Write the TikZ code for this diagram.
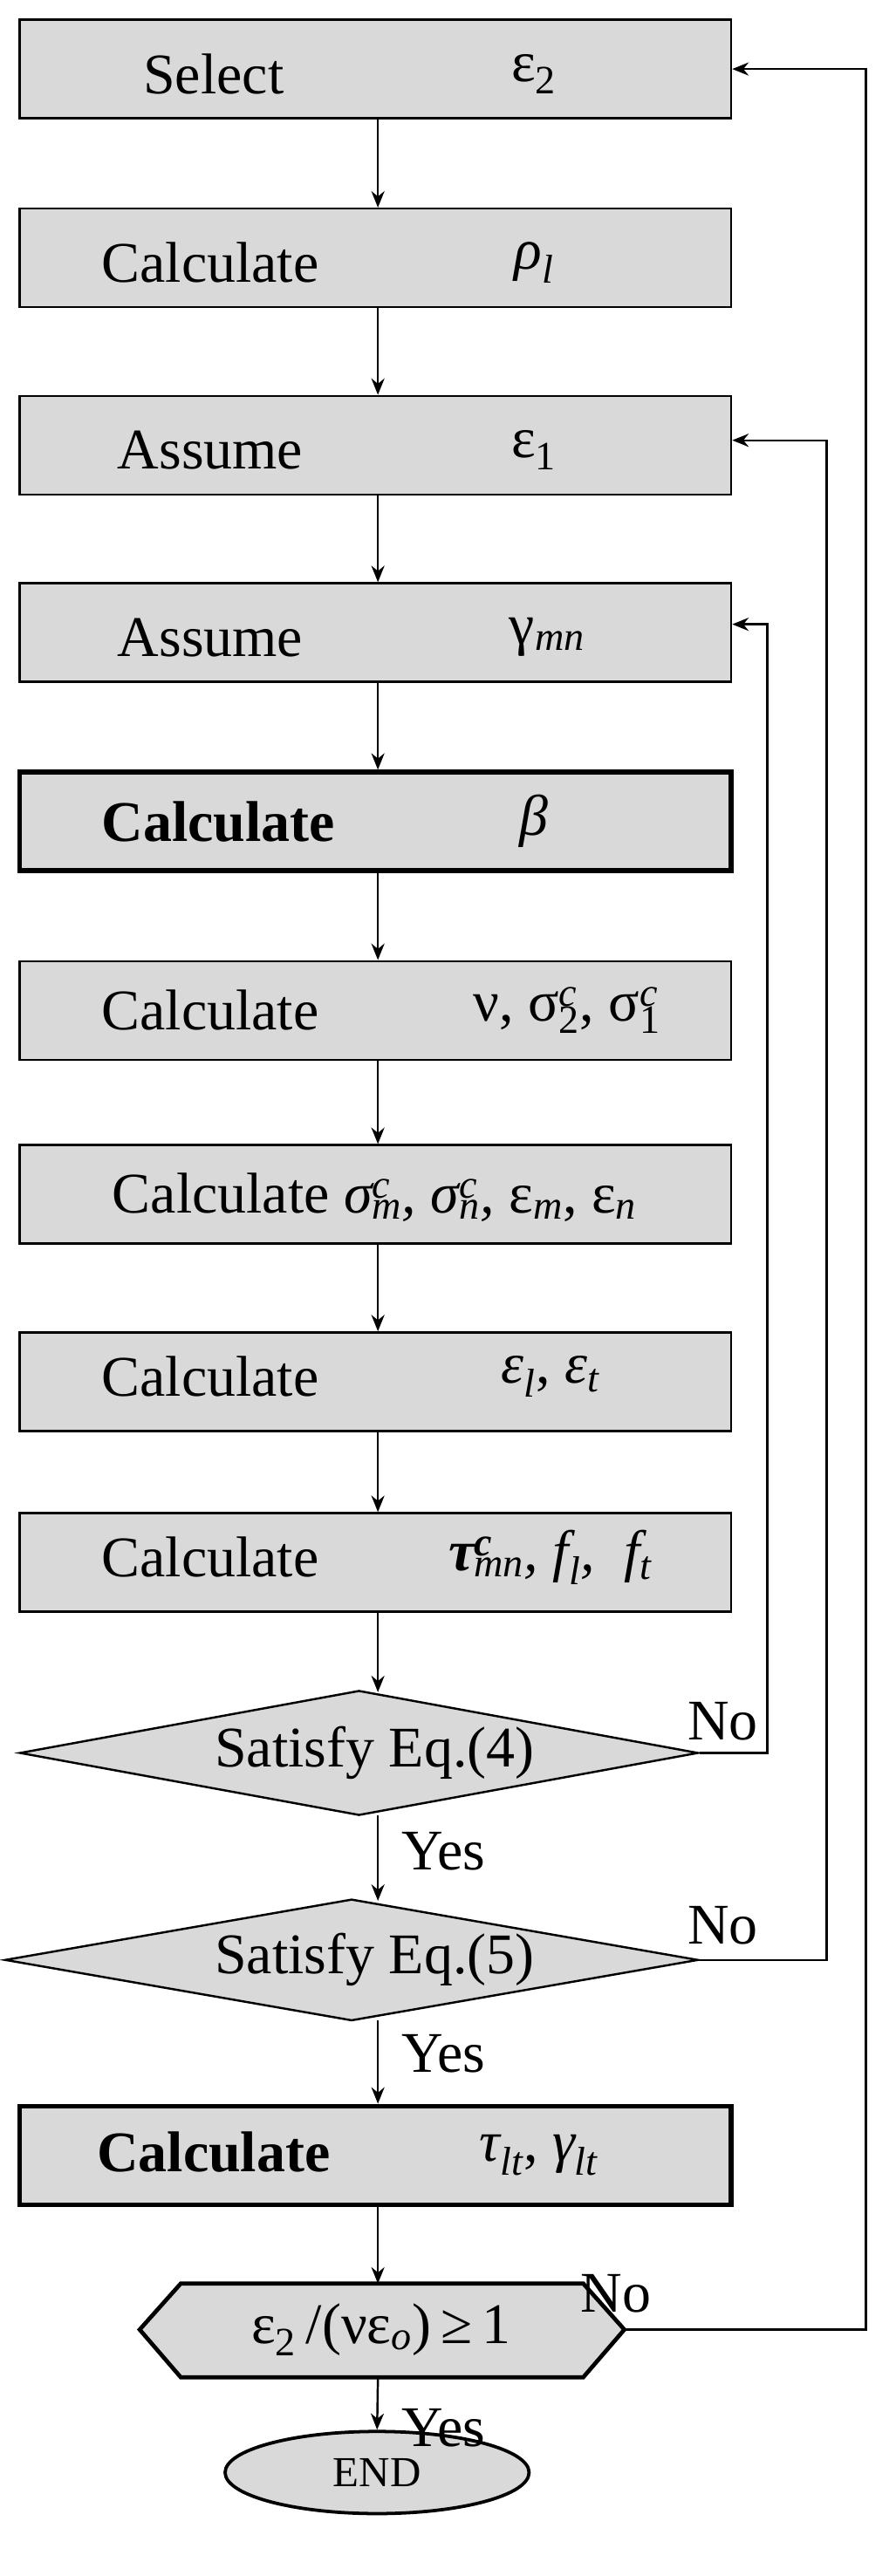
\documentclass[tikz,border=0pt]{standalone}
\usepackage{fontspec}
\setmainfont{Liberation Serif}
\usetikzlibrary{shapes.geometric,arrows.meta}
\newcommand{\supsb}[2]{\makebox[0pt][l]{\textsuperscript{\itshape #1}}\textsubscript{#2}}
\newcommand{\sbi}[1]{\textsubscript{\itshape #1}}
\definecolor{boxgray}{gray}{0.85}
\begin{document}
\begin{tikzpicture}[x=1pt,y=-1pt,
  bx/.style={draw,fill=boxgray,line width=1.3pt,minimum width=433pt,minimum height=60pt,inner sep=0pt},
  tbx/.style={bx,line width=3pt},
  arr/.style={-{Stealth[length=10pt,width=8pt]},line width=1.3pt},
  every node/.style={font=\fontsize{35}{40}\selectfont}]
\useasboundingbox (0,0) rectangle (545,1568);
\node[bx] (b1) at (228.5,42) {};
\node at (130,45) {Select}; \node at (325,45) {ε\textsubscript{2}};
\node[bx] (b2) at (228.5,157) {};
\node at (128,160) {Calculate}; \node at (325,160) {\itshape ρ\sbi{l}};
\node[bx] (b3) at (228.5,271) {};
\node at (128,274) {Assume}; \node at (325,274) {ε\textsubscript{1}};
\node[bx] (b4) at (228.5,385) {};
\node at (128,388) {Assume}; \node at (333,388) {γ\sbi{mn}};
\node[tbx] (b5) at (228.5,500) {};
\node at (133,500) {\bfseries Calculate}; \node at (325,500) {\itshape β};
\node[bx] (b6) at (228.5,615) {};
\node at (128,615) {Calculate}; \node at (345,615) {ν, σ\supsb{c}{2}, σ\supsb{c}{1}};
\node[bx] (b7) at (228.5,727) {};
\node at (228,729) {Calculate \itshape σ\supsb{c}{m}, σ\supsb{c}{n}, \upshape ε\sbi{m}, ε\sbi{n}};
\node[bx] (b8) at (228.5,841) {};
\node at (128,838) {Calculate}; \node at (335,838) {\itshape ε\sbi{l}\upshape, \itshape ε\sbi{t}};
\node[bx] (b9) at (228.5,951) {};
\node at (128,948) {Calculate}; \node at (335,948) {\itshape\bfseries τ\supsb{c}{\mdseries mn}\mdseries, f\sbi{l}, \ f\sbi{t}};
\node[diamond,aspect=5.5,draw,fill=boxgray,line width=1.3pt,minimum width=413pt,minimum height=76pt,inner sep=0pt] (d1) at (218.5,1067) {};
\node at (228,1067) {Satisfy Eq.(4)};
\node[diamond,aspect=5.8,draw,fill=boxgray,line width=1.3pt,minimum width=422pt,minimum height=74pt,inner sep=0pt] (d2) at (214,1193) {};
\node at (228,1193) {Satisfy Eq.(5)};
\node[tbx] (b10) at (228.5,1312) {};
\node at (130,1310) {\bfseries Calculate}; \node at (328,1312) {\itshape τ\sbi{lt}\upshape, \itshape γ\sbi{lt}};
\path[draw,fill=boxgray,line width=2.5pt] (85,1418)--(110,1390)--(355,1390)--(380,1418)--(355,1447)--(110,1447)--cycle;
\coordinate (hxr) at (380,1418);
\node at (232,1418) {ε\textsubscript{2}\,/(νε\textsubscript{\itshape o})\,≥\,1};
\node[ellipse,draw,fill=boxgray,line width=2pt,minimum width=185pt,minimum height=50pt,inner sep=0pt] (end) at (229.5,1505) {};
\node[font=\fontsize{26}{30}\selectfont] at (229.5,1505) {END};
\foreach \a/\b in {b1/b2,b2/b3,b3/b4,b4/b5,b5/b6,b6/b7,b7/b8,b8/b9}
  \draw[arr] (\a.south -| 230,0) -- (\b.north -| 230,0);
\draw[arr] (b9.south -| 230,0) -- (230,1030);
\draw[arr] (230,1105) -- (230,1157);
\draw[arr] (230,1230) -- (b10.north -| 230,0);
\draw[arr] (b10.south -| 230,0) -- (230,1390);
\draw[arr] (230,1448) -- (end.north);
\draw[arr] (d1.east) -- (467,1067) -- (467,380) -- (b4.east |- 0,380);
\draw[arr] (d2.east) -- (503,1193) -- (503,268) -- (b3.east |- 0,268);
\draw[arr] (hxr) -- (527,1418) -- (527,42) -- (b1.east);
\node at (440,1048) {No}; \node at (440,1172) {No}; \node at (375,1396) {No};
\node at (270,1127) {Yes}; \node at (270,1250) {Yes}; \node at (270,1478) {Yes};
\end{tikzpicture}
\end{document}
